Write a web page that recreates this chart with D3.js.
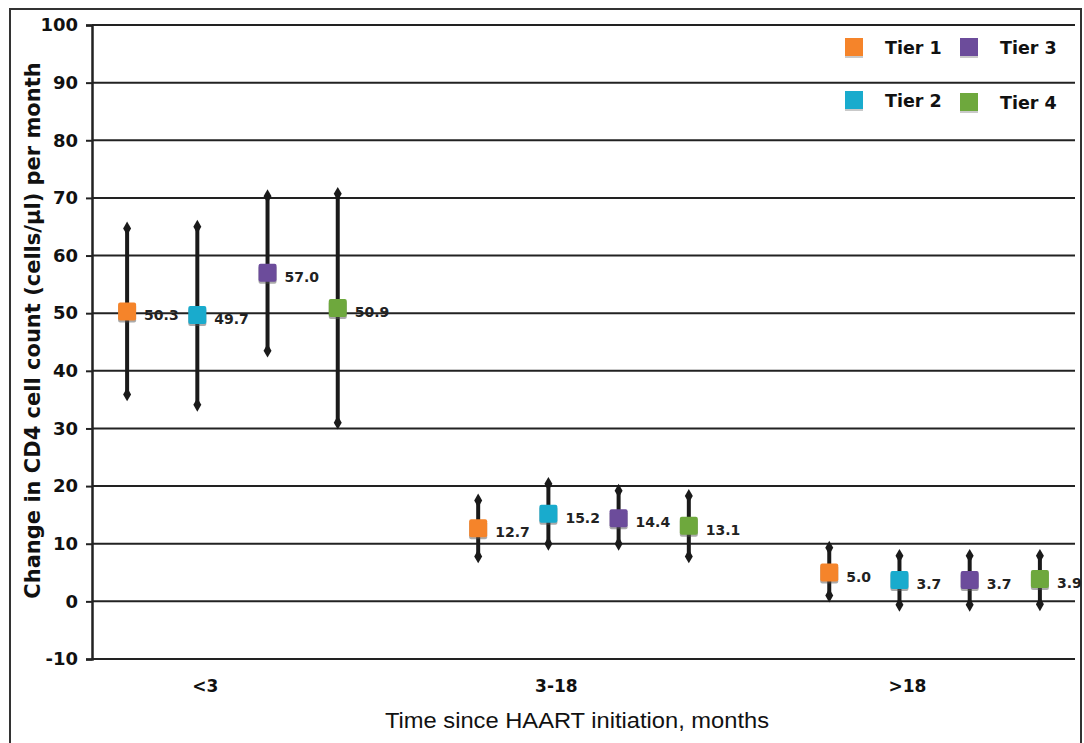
<!DOCTYPE html>
<html>
<head>
<meta charset="utf-8">
<script src="https://cdn.jsdelivr.net/npm/d3@7"></script>
<style>
body { margin: 0; background: #fff; }
</style>
</head>
<body>
<div id="chart"></div>
<script>
// data
const categories = ["<3", "3-18", ">18"];
const tiers = ["Tier 1", "Tier 2", "Tier 3", "Tier 4"];
const tierColors = ["#f5842a", "#19abcd", "#6c4c9b", "#6ea83d"];
const meanValues = [
  [50.3, 49.7, 57.0, 50.9],
  [12.7, 15.2, 14.4, 13.1],
  [5.0, 3.7, 3.7, 3.9]
];
const upperValues = [
  [64.7, 65.0, 70.3, 70.7],
  [17.5, 20.4, 19.2, 18.3],
  [9.3, 7.9, 7.9, 7.9]
];
const lowerValues = [
  [35.9, 34.1, 43.5, 31.0],
  [7.8, 10.0, 10.0, 7.8],
  [1.0, -0.6, -0.6, -0.5]
];
const yTicks = [-10, 0, 10, 20, 30, 40, 50, 60, 70, 80, 90, 100];

const W = 1084, H = 743;
const margin = { top: 25, right: 9, bottom: 84, left: 92 };
const width = W - margin.left - margin.right;
const height = H - margin.top - margin.bottom;

const svg = d3.select("#chart")
  .append("svg")
  .attr("width", W)
  .attr("height", H);

// outer frame
svg.append("rect")
  .attr("x", 10).attr("y", 9)
  .attr("width", 1071).attr("height", 750)
  .attr("fill", "none")
  .attr("stroke", "#333")
  .attr("stroke-width", 2);

const g = svg.append("g")
  .attr("transform", `translate(${margin.left},${margin.top})`);

// one slot per tier, with an empty slot between groups
const slots = d3.range(categories.length * (tiers.length + 1) - 1);
const x = d3.scaleBand()
  .domain(slots)
  .range([0, width]);
const slotOf = (ci, ti) => ci * (tiers.length + 1) + ti;
const cx = (ci, ti) => x(slotOf(ci, ti)) + x.bandwidth() / 2;

const y = d3.scaleLinear()
  .domain([-10, 100])
  .range([height, 0]);

// grid lines
g.append("g")
  .selectAll("line")
  .data(yTicks)
  .enter()
  .append("line")
  .attr("x1", 0).attr("x2", width)
  .attr("y1", d => y(d)).attr("y2", d => y(d))
  .attr("stroke", "#222")
  .attr("stroke-width", 2);

// y axis
const yAxis = g.append("g")
  .call(d3.axisLeft(y).tickValues(yTicks).tickSize(6).tickPadding(8)
    .tickFormat(d => String(d)));
yAxis.select(".domain").attr("stroke", "#222").attr("stroke-width", 2.5);
yAxis.selectAll(".tick line").attr("stroke", "#222").attr("stroke-width", 2);
yAxis.selectAll(".tick text")
  .attr("font-family", "DejaVu Sans")
  .attr("font-weight", "bold")
  .attr("font-size", 18)
  .attr("fill", "#111");

// category labels
g.append("g")
  .selectAll("text")
  .data(categories)
  .enter()
  .append("text")
  .attr("x", (d, i) => cx(i, 1) + 8)
  .attr("y", height + 33)
  .attr("text-anchor", "middle")
  .attr("font-family", "DejaVu Sans")
  .attr("font-weight", "bold")
  .attr("font-size", 17)
  .attr("fill", "#111")
  .text(d => d);

// flatten points
const points = [];
categories.forEach((c, ci) => {
  tiers.forEach((t, ti) => {
    points.push({
      ci, ti,
      mean: meanValues[ci][ti],
      hi: upperValues[ci][ti],
      lo: lowerValues[ci][ti]
    });
  });
});

const pt = g.selectAll(".pt")
  .data(points)
  .enter()
  .append("g")
  .attr("class", "pt");

// error bars
pt.append("line")
  .attr("x1", d => cx(d.ci, d.ti)).attr("x2", d => cx(d.ci, d.ti))
  .attr("y1", d => y(d.hi)).attr("y2", d => y(d.lo))
  .attr("stroke", "#1a1a1a")
  .attr("stroke-width", 4);

const diamond = d3.symbol().type(d3.symbolDiamond).size(55);
pt.append("path")
  .attr("d", diamond)
  .attr("transform", d => `translate(${cx(d.ci, d.ti)},${y(d.hi)})`)
  .attr("fill", "#1a1a1a");
pt.append("path")
  .attr("d", diamond)
  .attr("transform", d => `translate(${cx(d.ci, d.ti)},${y(d.lo)})`)
  .attr("fill", "#1a1a1a");

// shadow + marker
pt.append("rect")
  .attr("x", d => cx(d.ci, d.ti) - 9)
  .attr("y", d => y(d.mean) - 7)
  .attr("width", 18).attr("height", 18)
  .attr("rx", 2)
  .attr("fill", "#555")
  .attr("opacity", 0.5);
pt.append("rect")
  .attr("x", d => cx(d.ci, d.ti) - 9)
  .attr("y", d => y(d.mean) - 9)
  .attr("width", 18).attr("height", 18)
  .attr("rx", 2)
  .attr("fill", d => tierColors[d.ti]);

// value labels
pt.append("text")
  .attr("x", d => cx(d.ci, d.ti) + 17)
  .attr("y", d => y(d.mean) + 9)
  .attr("font-family", "DejaVu Sans")
  .attr("font-weight", "bold")
  .attr("font-size", 14)
  .attr("fill", "#222")
  .text(d => d.mean.toFixed(1));

// legend
const legendPos = [[845, 38], [845, 91], [960, 38], [960, 93]];
const legend = svg.append("g")
  .selectAll("g")
  .data(tiers)
  .enter()
  .append("g")
  .attr("transform", (d, i) => `translate(${legendPos[i][0]},${legendPos[i][1]})`);
legend.append("rect")
  .attr("x", 0).attr("y", 2)
  .attr("width", 18).attr("height", 18)
  .attr("fill", "#777").attr("opacity", 0.4);
legend.append("rect")
  .attr("width", 18).attr("height", 18)
  .attr("fill", (d, i) => tierColors[i]);
legend.append("text")
  .attr("x", 40)
  .attr("y", 16)
  .attr("font-family", "DejaVu Sans")
  .attr("font-weight", "bold")
  .attr("font-size", 17.5)
  .attr("fill", "#111")
  .text(d => d);

// axis titles
svg.append("text")
  .attr("transform", `translate(40,${margin.top + y(47)}) rotate(-90)`)
  .attr("text-anchor", "middle")
  .attr("font-family", "DejaVu Sans")
  .attr("font-weight", "bold")
  .attr("font-size", 21)
  .attr("fill", "#111")
  .text("Change in CD4 cell count (cells/μl) per month");

svg.append("text")
  .attr("x", 577)
  .attr("y", 728)
  .attr("text-anchor", "middle")
  .attr("font-family", "Liberation Sans")
  .attr("font-size", 22)
  .attr("textLength", 384)
  .attr("lengthAdjust", "spacingAndGlyphs")
  .attr("fill", "#111")
  .text("Time since HAART initiation, months");
</script>
</body>
</html>
